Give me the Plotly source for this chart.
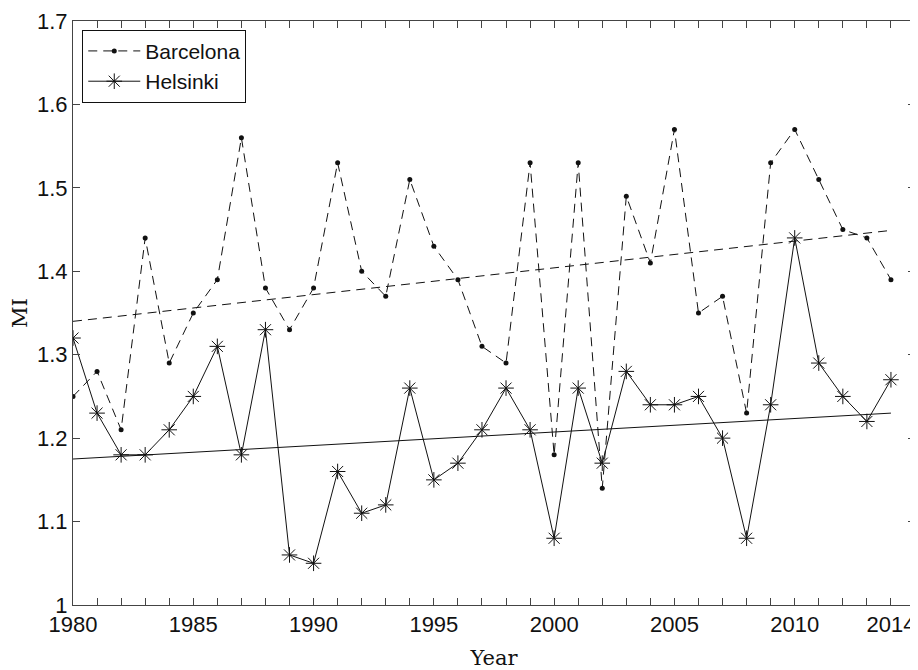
import plotly.graph_objects as go

years = list(range(1980, 2015))
barcelona = [1.25, 1.28, 1.21, 1.44, 1.29, 1.35, 1.39, 1.56, 1.38, 1.33,
             1.38, 1.53, 1.40, 1.37, 1.51, 1.43, 1.39, 1.31, 1.29, 1.53,
             1.18, 1.53, 1.14, 1.49, 1.41, 1.57, 1.35, 1.37, 1.23, 1.53,
             1.57, 1.51, 1.45, 1.44, 1.39]
helsinki = [1.32, 1.23, 1.18, 1.18, 1.21, 1.25, 1.31, 1.18, 1.33, 1.06,
            1.05, 1.16, 1.11, 1.12, 1.26, 1.15, 1.17, 1.21, 1.26, 1.21,
            1.08, 1.26, 1.17, 1.28, 1.24, 1.24, 1.25, 1.20, 1.08, 1.24,
            1.44, 1.29, 1.25, 1.22, 1.27]
trend_years = [1980, 2014]
barcelona_trend = [1.340, 1.449]
helsinki_trend = [1.175, 1.230]
x_tick_labels = {1980: "1980", 1985: "1985", 1990: "1990", 1995: "1995",
                 2000: "2000", 2005: "2005", 2010: "2010", 2014: "2014"}
y_ticks = [1.0, 1.1, 1.2, 1.3, 1.4, 1.5, 1.6, 1.7]
y_tick_labels = ["1", "1.1", "1.2", "1.3", "1.4", "1.5", "1.6", "1.7"]

fig = go.Figure()
fig.add_trace(go.Scatter(x=years, y=barcelona, name="Barcelona", mode="lines+markers",
                         line=dict(color="#111", width=1, dash="9px,6px"),
                         marker=dict(symbol="circle", size=5, color="#111")))
fig.add_trace(go.Scatter(x=years, y=helsinki, name="Helsinki", mode="lines+markers",
                         line=dict(color="#111", width=1),
                         marker=dict(symbol="asterisk-open", size=13,
                                     line=dict(color="#111", width=1))))
fig.add_trace(go.Scatter(x=trend_years, y=barcelona_trend, mode="lines", showlegend=False,
                         line=dict(color="#111", width=1, dash="9px,6px"), hoverinfo="skip"))
fig.add_trace(go.Scatter(x=trend_years, y=helsinki_trend, mode="lines", showlegend=False,
                         line=dict(color="#111", width=1), hoverinfo="skip"))

fig.update_layout(
    width=910, height=662,
    margin=dict(l=65, r=3, t=13, b=65),
    paper_bgcolor="white", plot_bgcolor="white",
    font=dict(family="Liberation Sans, Arial, sans-serif", size=22, color="#111"),
    showlegend=True,
    legend=dict(x=0.011, y=0.985, xanchor="left", yanchor="top",
                bgcolor="white", bordercolor="#111", borderwidth=1,
                font=dict(size=21), itemwidth=52, tracegroupgap=0),
)
fig.update_xaxes(
    range=[1980, 2015], tickvals=years,
    ticktext=[x_tick_labels.get(y, "") for y in years],
    ticks="inside", ticklen=7, tickcolor="#444", tickwidth=1,
    showline=True, linecolor="#444", linewidth=1, mirror="ticks",
    showgrid=False, zeroline=False, automargin=False,
    title=dict(text="Year", font=dict(family="DejaVu Serif, Liberation Serif, serif", size=21),
               standoff=18),
)
fig.update_yaxes(
    range=[1.0, 1.7], tickvals=y_ticks, ticktext=y_tick_labels,
    ticks="inside", ticklen=7, tickcolor="#444", tickwidth=1,
    showline=True, linecolor="#444", linewidth=1, mirror="ticks",
    showgrid=False, zeroline=False, automargin=False,
    title=dict(text="MI", font=dict(family="DejaVu Serif, Liberation Serif, serif", size=21),
               standoff=9),
)
fig.write_html("out.html")
